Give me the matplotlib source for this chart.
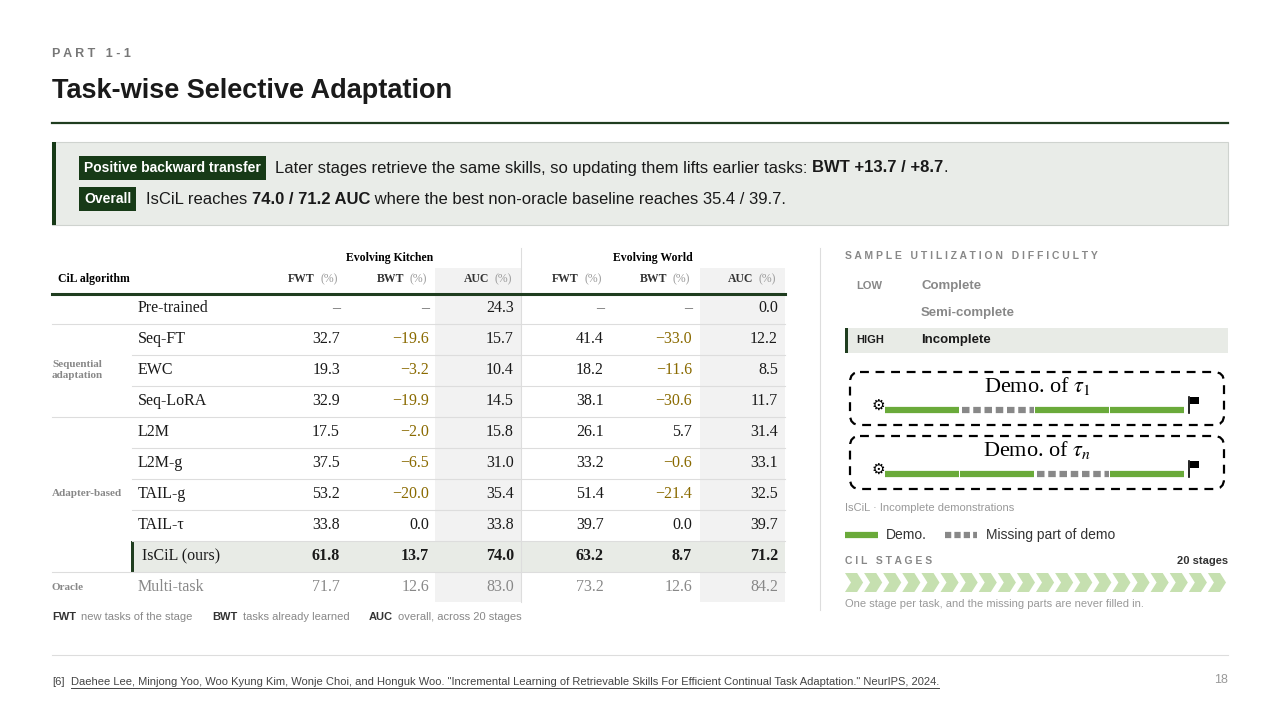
import matplotlib
matplotlib.use("Agg")
import matplotlib.pyplot as plt
from matplotlib.patches import Rectangle, FancyBboxPatch, Polygon

plt.rcParams['mathtext.fontset'] = 'stix'

algorithms = ["Pre-trained", "Seq-FT", "EWC", "Seq-LoRA", "L2M", "L2M-g", "TAIL-g", "TAIL-τ", "IsCiL (ours)", "Multi-task"]
kitchen_fwt = [None, 32.7, 19.3, 32.9, 17.5, 37.5, 53.2, 33.8, 61.8, 71.7]
kitchen_bwt = [None, -19.6, -3.2, -19.9, -2.0, -6.5, -20.0, 0.0, 13.7, 12.6]
kitchen_auc = [24.3, 15.7, 10.4, 14.5, 15.8, 31.0, 35.4, 33.8, 74.0, 83.0]
world_fwt = [None, 41.4, 18.2, 38.1, 26.1, 33.2, 51.4, 39.7, 63.2, 73.2]
world_bwt = [None, -33.0, -11.6, -30.6, 5.7, -0.6, -21.4, 0.0, 8.7, 12.6]
world_auc = [0.0, 12.2, 8.5, 11.7, 31.4, 33.1, 32.5, 39.7, 71.2, 84.2]
groups = [("Sequential\nadaptation", 1, 3), ("Adapter-based", 4, 8), ("Oracle", 9, 9)]
demo1 = ["demo", "missing", "demo", "demo"]
demon = ["demo", "demo", "missing", "demo"]
n_stages = 20

DG = "#1f3d1f"; GREEN = "#6aaa3a"; GOLD = "#8a6a00"; GRAY = "#888888"
fig = plt.figure(figsize=(12.8, 7.2), dpi=100)
ax = fig.add_axes([0, 0, 1, 1]); ax.set_xlim(0, 1280); ax.set_ylim(720, 0); ax.axis('off')
SANS = "Liberation Sans"; SERIF = "Liberation Serif"
renderer = fig.canvas.get_renderer()

def run(x, y, parts, **kw):
    for s, bold in parts:
        t = ax.text(x, y, s, fontweight='bold' if bold else 'normal', va='center', **kw)
        bb = t.get_window_extent(renderer)
        x += bb.width

ax.text(52, 54, "P A R T   1 - 1", fontsize=9, color="#777777", weight='bold', family=SANS, va='center')
ax.text(52, 91, "Task-wise Selective Adaptation", fontsize=19.5, weight='bold', color="#1a1a1a", family=SANS, va='center')
ax.plot([52, 1228], [123, 123], color=DG, lw=1.6)

ax.add_patch(Rectangle((52, 142), 1176, 83, facecolor="#e9ece8", edgecolor="#cfd3cf", lw=0.8))
ax.add_patch(Rectangle((52, 142), 4, 83, facecolor="#173a17"))
ax.text(84, 168, "Positive backward transfer", fontsize=10, weight='bold', color='white', family=SANS, va='center',
        bbox=dict(boxstyle='square,pad=0.35', fc="#173a17", ec='none'))
run(275, 168, [("Later stages retrieve the same skills, so updating them lifts earlier tasks: ", False),
               ("BWT +13.7 / +8.7", True), (".", False)], fontsize=12, family=SANS, color="#1a1a1a")
ax.text(84, 199, "Overall", fontsize=10, weight='bold', color='white', family=SANS, va='center',
        bbox=dict(boxstyle='square,pad=0.35', fc="#173a17", ec='none'))
run(146, 199, [("IsCiL reaches ", False), ("74.0 / 71.2 AUC", True),
               (" where the best non-oracle baseline reaches 35.4 / 39.7.", False)], fontsize=12, family=SANS, color="#1a1a1a")

# table
ax.add_patch(Rectangle((435, 268), 86, 334, facecolor="#f2f2f2", edgecolor='none'))
ax.add_patch(Rectangle((700, 268), 85, 334, facecolor="#f2f2f2", edgecolor='none'))
ax.plot([521, 521], [248, 602], color="#dddddd", lw=0.8)
ax.text(390, 258, "Evolving Kitchen", fontsize=8.5, weight='bold', family=SERIF, ha='center', va='center')
ax.text(653, 258, "Evolving World", fontsize=8.5, weight='bold', family=SERIF, ha='center', va='center')
ax.text(58, 279, "CiL algorithm", fontsize=8.5, weight='bold', family=SERIF, va='center')
colx = [340, 429, 514, 604, 692, 778]
for x, h in zip(colx, ["FWT", "BWT", "AUC"] * 2):
    ax.text(x - 25, 279, h, fontsize=8.5, weight='bold', family=SERIF, ha='right', va='center', color="#333333")
    ax.text(x - 2, 279, "(%)", fontsize=8.5, family=SERIF, ha='right', va='center', color="#999999")
ax.plot([52, 785], [294, 294], color=DG, lw=2.2)
rh = 31; y0 = 308
ax.add_patch(Rectangle((132, y0 + 8 * rh - rh / 2), 653, rh, facecolor="#e8ebe6", edgecolor='none'))
ax.add_patch(Rectangle((131, y0 + 8 * rh - rh / 2), 2.5, rh, facecolor=DG))
starts = {g[1] for g in groups}
for i in range(1, len(algorithms)):
    y = y0 + i * rh - rh / 2
    ax.plot([52 if i in starts else 132, 785], [y, y], color="#dddddd", lw=0.8)
for name, a, b in groups:
    ax.text(52, y0 + (a + b) / 2 * rh, name, fontsize=8, weight='bold', family=SERIF, va='center', color="#888888", linespacing=1.3)
def fmt(v):
    if v is None: return "–"
    return f"{v:.1f}".replace("-", "−")
cols = [kitchen_fwt, kitchen_bwt, kitchen_auc, world_fwt, world_bwt, world_auc]
for i, alg in enumerate(algorithms):
    y = y0 + i * rh
    ours = i == 8; oracle = i == 9
    tc = "#888888" if oracle else "#1a1a1a"
    ax.text(138 if not ours else 142, y, alg, fontsize=11.5, family=SERIF, va='center', color=tc)
    for j, (x, c) in enumerate(zip(colx, cols)):
        v = c[i]
        col = tc
        if j in (1, 4) and v is not None and v < 0: col = GOLD
        if v is None: col = "#666666"
        ax.text(x, y, fmt(v), fontsize=11.5, family=SERIF, ha='right', va='center', color=col,
                weight='bold' if ours else 'normal')
ax.text(52, 617, "FWT", fontsize=8, weight='bold', family=SANS, va='center', color="#333333")
ax.text(81, 617, "new tasks of the stage", fontsize=8, family=SANS, va='center', color="#888888")
ax.text(212, 617, "BWT", fontsize=8, weight='bold', family=SANS, va='center', color="#333333")
ax.text(243, 617, "tasks already learned", fontsize=8, family=SANS, va='center', color="#888888")
ax.text(369, 617, "AUC", fontsize=8, weight='bold', family=SANS, va='center', color="#333333")
ax.text(398, 617, "overall, across 20 stages", fontsize=8, family=SANS, va='center', color="#888888")

# right panel
ax.plot([820, 820], [248, 610], color="#dddddd", lw=0.8)
ax.text(845, 256, "S A M P L E   U T I L I Z A T I O N   D I F F I C U L T Y", fontsize=7.5, weight='bold', color="#888888", family=SANS, va='center')
ax.add_patch(Rectangle((845, 328), 383, 25, facecolor="#e8ebe6", edgecolor='none'))
ax.add_patch(Rectangle((845, 328), 2.5, 25, facecolor=DG))
for y, lv, nm, hi in [(286, "LOW", "Complete", False), (313, "", "Semi-complete", False), (340, "HIGH", "Incomplete", True)]:
    c = "#1a1a1a" if hi else "#888888"
    ax.text(856, y, lv, fontsize=8, weight='bold', family=SANS, va='center', color=c)
    ax.text(921, y, nm, fontsize=9.5, weight='bold', family=SANS, va='center', color=c)
for (top, sub, demo) in [(372, "1", demo1), (436, "n", demon)]:
    ax.add_patch(FancyBboxPatch((850, top), 374, 53, boxstyle="round,pad=0,rounding_size=10",
                                fc='none', ec='black', lw=1.6, ls=(0, (4, 3))))
    ax.text(1037, top + 14, f"Demo. of $\\tau_{sub}$", fontsize=16, family=SERIF, ha='center', va='center')
    yb = top + 38
    segw = 73.5
    for k, kind in enumerate(demo):
        xs = 885 + k * (segw + 1.5)
        if kind == "demo":
            ax.plot([xs, xs + segw], [yb, yb], color=GREEN, lw=4.5, solid_capstyle='butt')
        else:
            ax.plot([xs + 2, xs + segw], [yb, yb], color=GRAY, lw=4.5, ls=(0, (1.2, 0.6)))
    ax.text(878, yb - 5, "⚙", fontsize=11, ha='center', va='center', family="DejaVu Sans")
    ax.plot([1189, 1189], [yb + 3, yb - 13], color='black', lw=1.2)
    ax.add_patch(Rectangle((1190, yb - 13), 9, 7, facecolor='black'))
ax.text(845, 508, "IsCiL · Incomplete demonstrations", fontsize=8, family=SANS, va='center', color="#999999")
ax.plot([845, 878], [535, 535], color=GREEN, lw=4.5, solid_capstyle='butt')
ax.text(886, 535, "Demo.", fontsize=10, family=SANS, va='center', color="#333333")
ax.plot([945, 977], [535, 535], color=GRAY, lw=4.5, ls=(0, (1.0, 0.5)))
ax.text(986, 535, "Missing part of demo", fontsize=10, family=SANS, va='center', color="#333333")
ax.text(845, 561, "C I L   S T A G E S", fontsize=7.5, weight='bold', color="#888888", family=SANS, va='center')
ax.text(1228, 561, "20 stages", fontsize=8, weight='bold', color="#333333", family=SANS, va='center', ha='right')
w = (1227 - 845) / n_stages
for k in range(n_stages):
    x = 845 + k * w
    pts = [(x, 573), (x + w - 7, 573), (x + w - 1, 582.5), (x + w - 7, 592), (x, 592), (x + 6, 582.5)]
    ax.add_patch(Polygon(pts, closed=True, fc="#c6e0b0", ec='none'))
ax.text(845, 604, "One stage per task, and the missing parts are never filled in.", fontsize=8, family=SANS, va='center', color="#999999")

ax.plot([52, 1228], [655, 655], color="#dddddd", lw=0.8)
ax.text(52, 682, "[6]", fontsize=8, family=SANS, va='center', color="#444444")
t = ax.text(71, 682, "Daehee Lee, Minjong Yoo, Woo Kyung Kim, Wonje Choi, and Honguk Woo. \"Incremental Learning of Retrievable Skills For Efficient Continual Task Adaptation.\" NeurIPS, 2024.",
        fontsize=8, family=SANS, va='center', color="#444444")
bb = t.get_window_extent(renderer)
ax.plot([71, 71 + bb.width], [688, 688], color="#444444", lw=0.7)
ax.text(1228, 680, "18", fontsize=9, family=SANS, va='center', ha='right', color="#999999")
fig.savefig("out.png", dpi=100, facecolor='white')
